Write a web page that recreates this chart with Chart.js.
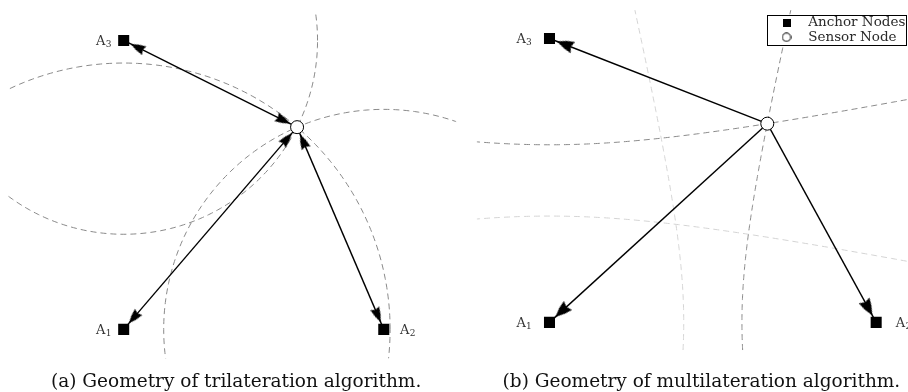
<!DOCTYPE html>
<html>
<head>
<meta charset="utf-8">
<script src="https://cdn.jsdelivr.net/npm/chart.js@4.4.1/dist/chart.umd.min.js"></script>
<style>
  html, body { margin: 0; padding: 0; background: #fff; }
  body { width: 908px; height: 392px; overflow: hidden; position: relative; }
  .panel { position: absolute; top: 0; height: 392px; }
  #wrapA { left: 0; width: 472px; }
  #wrapB { left: 454px; width: 494px; }
  #legendBox { position: absolute; left: 767px; top: 15px; width: 140px; height: 31px;
               box-sizing: border-box; border: 1px solid #000; background: #fff; }
  #wrapL { position: absolute; left: 768px; top: 15px; width: 138px; height: 60px; }
  canvas { display: block; }
</style>
</head>
<body>
<div class="panel" id="wrapA"><canvas id="chartA" width="472" height="392"></canvas></div>
<div class="panel" id="wrapB"><canvas id="chartB" width="494" height="392"></canvas></div>
<div id="legendBox"></div>
<div id="wrapL"><canvas id="chartL" width="138" height="60"></canvas></div>
<script>
// Node layout in field units
const anchorNames = ['A', 'A', 'A'];
const anchorSubs = ['1', '2', '3'];
const anchorX = [0, 9, 0];
const anchorY = [0, 0, 10];
const sensorX = [6];
const sensorY = [7];
const legendNames = ['Anchor Nodes', 'Sensor Node'];
const captionA = '(a) Geometry of trilateration algorithm.';
const captionB = '(b) Geometry of multilateration algorithm.';

const SERIF = '"DejaVu Serif", "Liberation Serif", serif';

const anchors = anchorX.map((x, i) => ({ x, y: anchorY[i] }));
const sensor = { x: sensorX[0], y: sensorY[0] };

// Range circle around an anchor, radius = anchor-to-sensor distance
function rangeCircle(a, s) {
  const r = Math.hypot(s.x - a.x, s.y - a.y);
  const pts = [];
  for (let deg = 0; deg <= 360; deg += 1) {
    const t = deg * Math.PI / 180;
    pts.push({ x: a.x + r * Math.cos(t), y: a.y + r * Math.sin(t) });
  }
  return pts;
}

// Both branches of the range-difference hyperbola of anchors a, b for sensor s
function tdoaBranches(a, b, s) {
  const k = Math.hypot(s.x - a.x, s.y - a.y) - Math.hypot(s.x - b.x, s.y - b.y);
  const cx = (a.x + b.x) / 2, cy = (a.y + b.y) / 2;
  const c = Math.hypot(b.x - a.x, b.y - a.y) / 2;
  const ux = (b.x - a.x) / (2 * c), uy = (b.y - a.y) / (2 * c);
  const vx = -uy, vy = ux;
  const ha = Math.abs(k) / 2, hb = Math.sqrt(c * c - ha * ha);
  const sgn = Math.sign(k) || 1;
  const branch = (side) => {
    const pts = [];
    for (let i = -300; i <= 300; i++) {
      const t = i / 100;
      const p = ha * Math.cosh(t) * side, q = hb * Math.sinh(t);
      pts.push({ x: cx + p * ux + q * vx, y: cy + p * uy + q * vy });
    }
    return pts;
  };
  return { through: branch(sgn), other: branch(-sgn) };
}

// Filled arrow tip pointing along +x, tip set back from the image centre by `gap`
function arrowHeadImage(len, half, gap) {
  const w = Math.ceil(2 * (gap + len)) + 4;
  const h = Math.ceil(2 * half) + 4;
  const c = document.createElement('canvas');
  c.width = w; c.height = h;
  const g = c.getContext('2d');
  const cx = w / 2, cy = h / 2;
  const tip = cx - gap, back = tip - len;
  g.fillStyle = '#000';
  g.beginPath();
  g.moveTo(tip, cy);
  g.quadraticCurveTo(tip - len * 0.45, cy - half * 0.72, back, cy - half);
  g.lineTo(back + len * 0.12, cy);
  g.lineTo(back, cy + half);
  g.quadraticCurveTo(tip - len * 0.45, cy + half * 0.72, tip, cy);
  g.closePath();
  g.fill();
  return c;
}

function legendSquare() {
  const c = document.createElement('canvas');
  c.width = 8; c.height = 8;
  const g = c.getContext('2d');
  g.fillStyle = '#000';
  g.fillRect(0, 0, 8, 8);
  return c;
}
function legendCircle() {
  const c = document.createElement('canvas');
  c.width = 10; c.height = 10;
  const g = c.getContext('2d');
  g.fillStyle = '#fff';
  g.strokeStyle = '#000';
  g.lineWidth = 1;
  g.beginPath();
  g.arc(5, 5, 4.2, 0, Math.PI * 2);
  g.fill();
  g.stroke();
  return c;
}

// Orientation of an arrow tip: from the other end of the segment towards this one
function headAngle(ctx) {
  const i = ctx.dataIndex;
  if (i === undefined) return 0;
  const pts = ctx.chart.data.datasets[ctx.datasetIndex].data;
  const j = 1 - i;
  const xs = ctx.chart.scales.x, ys = ctx.chart.scales.y;
  const dx = xs.getPixelForValue(pts[i].x) - xs.getPixelForValue(pts[j].x);
  const dy = ys.getPixelForValue(pts[i].y) - ys.getPixelForValue(pts[j].y);
  return Math.atan2(dy, dx) * 180 / Math.PI;
}

// Anchor names with subscript index, placed beside each anchor square
const anchorLabels = {
  id: 'anchorLabels',
  afterDatasetsDraw(chart, args, opts) {
    const { ctx, scales: { x, y } } = chart;
    const mainFont = '13px ' + SERIF, subFont = '9px ' + SERIF;
    ctx.save();
    ctx.fillStyle = '#333';
    ctx.textBaseline = 'alphabetic';
    ctx.textAlign = 'left';
    anchorNames.forEach((name, i) => {
      const px = x.getPixelForValue(anchorX[i]);
      const py = y.getPixelForValue(anchorY[i]);
      const off = opts.offsets[i];
      ctx.font = mainFont;
      const wMain = ctx.measureText(name).width;
      ctx.font = subFont;
      const wSub = ctx.measureText(anchorSubs[i]).width;
      const left = off > 0 ? px + off : px + off - wMain - wSub;
      ctx.font = mainFont;
      ctx.fillText(name, left, py + 4.7);
      ctx.font = subFont;
      ctx.fillText(anchorSubs[i], left + wMain + 0.3, py + 7);
    });
    ctx.restore();
  }
};

function nodeDatasets() {
  return [
    { label: legendNames[1], data: [sensor], pointStyle: 'circle', pointRadius: 6.5,
      pointBackgroundColor: '#fff', pointBorderColor: '#000', pointBorderWidth: 1 },
    { label: legendNames[0], data: anchors, pointStyle: 'rect', pointRadius: 7.8,
      pointBackgroundColor: '#000', pointBorderColor: '#000', pointBorderWidth: 0 }
  ];
}

function arrowDataset(a, head, bothEnds) {
  return {
    data: [sensor, a], showLine: true, borderColor: '#000', borderWidth: 1.4,
    pointStyle: head, pointRadius: bothEnds ? [1, 1] : [0, 1], pointRotation: headAngle
  };
}

function curveDataset(pts, color, clip) {
  const ds = { data: pts, showLine: true, borderColor: color, borderWidth: 1,
               borderDash: [6, 4], pointRadius: 0 };
  if (clip) ds.clip = clip;
  return ds;
}

function panelOptions(xr, yr, pad, caption, titleTop, offsets) {
  return {
    responsive: false, animation: false, events: [], devicePixelRatio: 1,
    layout: { padding: pad },
    scales: {
      x: { type: 'linear', min: xr[0], max: xr[1], display: false },
      y: { type: 'linear', min: yr[0], max: yr[1], display: false }
    },
    plugins: {
      legend: { display: false },
      tooltip: { enabled: false },
      title: { display: true, position: 'bottom', text: caption, color: '#111',
               font: { family: SERIF, size: 18.5, weight: 'normal', lineHeight: 1.1 },
               padding: { top: titleTop, bottom: 0 } },
      anchorLabels: { offsets }
    }
  };
}

// (a) trilateration: range circles, double-headed range arrows
const headA = arrowHeadImage(15, 4.8, 8);
const circleClip = { left: 0, top: 0, right: -8, bottom: 0 };
const dataA = [
  ...nodeDatasets(),
  ...anchors.map(a => arrowDataset(a, headA, true)),
  ...anchors.map(a => curveDataset(rangeCircle(a, sensor), '#8a8a8a', circleClip))
];
new Chart(document.getElementById('chartA'), {
  type: 'scatter',
  data: { datasets: dataA },
  options: panelOptions([-4, 11.78], [-1, 11],
    { left: 8.1, right: 7.9, top: 11.6, bottom: 0 }, captionA, 13.4, [-12.5, 16.3, -12.5]),
  plugins: [anchorLabels]
});

// (b) multilateration: range-difference hyperbolas, single-headed arrows
const headB = arrowHeadImage(17, 6, 8);
const h12 = tdoaBranches(anchors[0], anchors[1], sensor);
const h13 = tdoaBranches(anchors[0], anchors[2], sensor);
const dataB = [
  ...nodeDatasets(),
  ...anchors.map(a => arrowDataset(a, headB, false)),
  curveDataset(h12.through, '#8a8a8a'),
  curveDataset(h13.through, '#8a8a8a'),
  curveDataset(h12.other, '#d4d4d4'),
  curveDataset(h13.other, '#d4d4d4')
];
new Chart(document.getElementById('chartB'), {
  type: 'scatter',
  data: { datasets: dataB },
  options: panelOptions([-2, 10.37], [-1, 11],
    { left: 22.9, right: 22.1, top: 10.1, bottom: 0 }, captionB, 20.9, [-18, 19.7, -18]),
  plugins: [anchorLabels]
});

// Legend for the node symbols
new Chart(document.getElementById('chartL'), {
  type: 'scatter',
  data: { datasets: [
    { label: legendNames[0], data: [], pointStyle: legendSquare() },
    { label: legendNames[1], data: [], pointStyle: legendCircle() }
  ] },
  options: {
    responsive: false, animation: false, events: [], devicePixelRatio: 1,
    layout: { padding: { left: 2.5, top: 0, right: 0, bottom: 0 } },
    scales: { x: { display: false }, y: { display: false } },
    plugins: {
      tooltip: { enabled: false },
      legend: {
        display: true, position: 'top', align: 'start',
        labels: { usePointStyle: true, pointStyleWidth: 30, boxHeight: 7, padding: 1,
                  color: '#2a2a2a', font: { family: SERIF, size: 13.5 } }
      }
    }
  }
});
</script>
</body>
</html>
